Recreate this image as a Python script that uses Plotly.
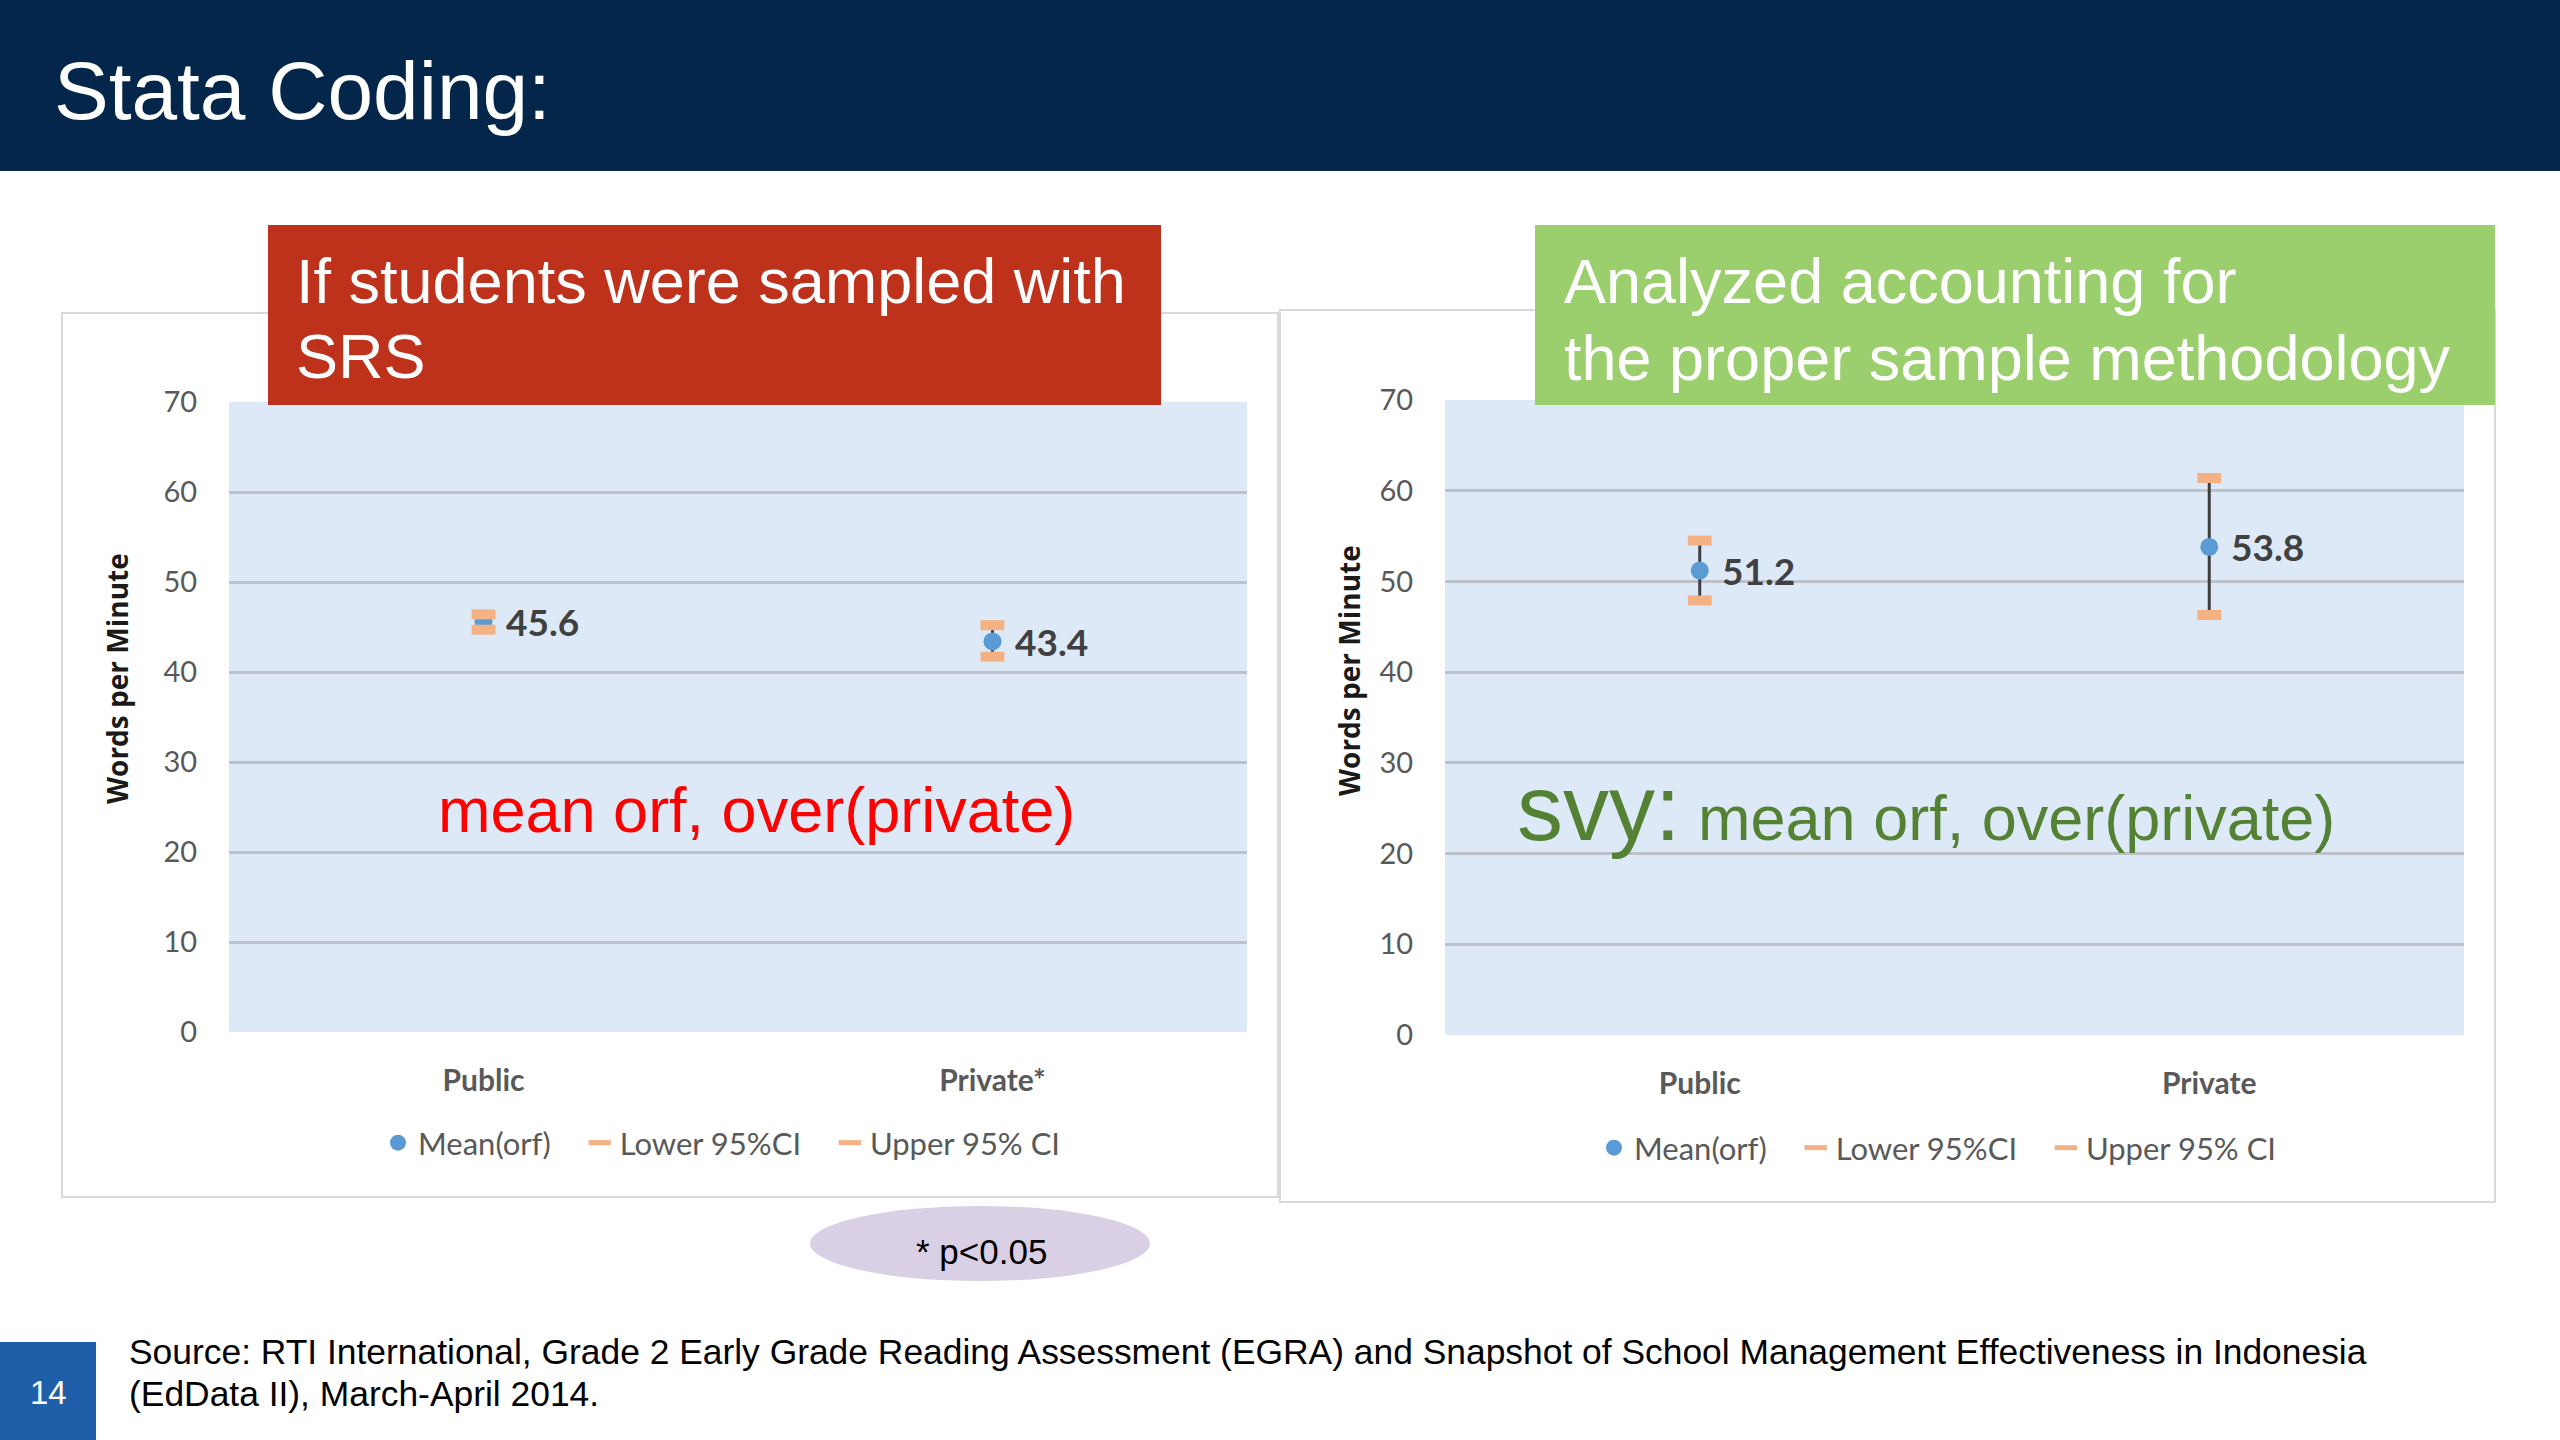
import plotly.graph_objects as go

# ---------------- data ----------------
cats_left = ["Public", "Private*"]
mean_left = [45.6, 43.4]
lower_left = [44.7, 41.7]
upper_left = [46.4, 45.2]

cats_right = ["Public", "Private"]
mean_right = [51.2, 53.8]
lower_right = [47.9, 46.3]
upper_right = [54.5, 61.4]

y_ticks = [0, 10, 20, 30, 40, 50, 60, 70]
series_names = ["Mean(orf)", "Lower 95%CI", "Upper 95% CI"]

title_text = "Stata Coding:"
left_box_lines = ["If students were sampled with", "SRS"]
right_box_lines = ["Analyzed accounting for", "the proper sample methodology"]
left_cmd = "mean orf, over(private)"
right_cmd_prefix = "svy:"
right_cmd = "mean orf, over(private)"
y_title = "Words per Minute"
note_text = "* p<0.05"
page_no = "14"
source_lines = [
    "Source: RTI International, Grade 2 Early Grade Reading Assessment (EGRA) and Snapshot of School Management Effectiveness in Indonesia",
    "(EdData II), March-April 2014.",
]

# ---------------- helpers ----------------
W, H = 2560, 1440


def px(x):
    return x / W


def py(y):
    return 1 - y / H


BLUE = "#5B9BD5"
ORANGE = "#F4B183"
GRAY_TXT = "#595959"
LABEL_TXT = "#404040"
ARIAL = "Liberation Sans, Arial, sans-serif"
NARROW = "Liberation Sans Narrow, Arial Narrow, Liberation Sans, Arial, sans-serif"
CAL = "Lato, Carlito, Calibri, sans-serif"
LEGEND_PAD = "\u00a0" * 3

fig = go.Figure()


def add_chart(cats, means, lows, ups, xa, ya, legend):
    err_plus = [u - m for u, m in zip(ups, means)]
    err_minus = [m - l for m, l in zip(means, lows)]
    fig.add_trace(go.Scatter(
        x=cats, y=means, mode="markers", name=series_names[0] + LEGEND_PAD,
        xaxis=xa, yaxis=ya, legend=legend,
        marker=dict(symbol="circle", size=18, color=BLUE),
        error_y=dict(type="data", symmetric=False, array=err_plus,
                     arrayminus=err_minus, width=0, thickness=3,
                     color="#3F3F3F"),
    ))
    for name, vals in ((series_names[1] + LEGEND_PAD, lows),
                       (series_names[2], ups)):
        fig.add_trace(go.Scatter(
            x=cats, y=vals, mode="markers", name=name,
            xaxis=xa, yaxis=ya, legend=legend,
            marker=dict(symbol="line-ew", size=17, color=ORANGE,
                        line=dict(width=10, color=ORANGE)),
        ))
    axref = "x" if xa == "x" else xa
    ayref = "y" if ya == "y" else ya
    for c, m in zip(cats, means):
        fig.add_annotation(
            x=c, y=m, xref=axref, yref=ayref, text=f"{m:.1f}",
            showarrow=False, xanchor="left", yanchor="middle", xshift=20,
            font=dict(family=CAL, size=37, color=LABEL_TXT, weight="bold"),
        )


add_chart(cats_left, mean_left, lower_left, upper_left, "x", "y", "legend")
add_chart(cats_right, mean_right, lower_right, upper_right, "x2", "y2", "legend2")

axis_y = dict(
    range=[0, 70], tickvals=y_ticks, showgrid=True, gridcolor="#BDC1C9",
    gridwidth=3, zeroline=False, showline=False, ticks="outside",
    ticklen=25, tickcolor="rgba(0,0,0,0)", automargin=False,
    tickfont=dict(family=CAL, size=29, color=GRAY_TXT), fixedrange=True,
)
axis_x = dict(
    type="category", range=[-0.5, 1.5], showgrid=False, zeroline=False,
    showline=False, ticks="outside", ticklen=22, tickcolor="rgba(0,0,0,0)",
    tickfont=dict(family=CAL, size=30, color=GRAY_TXT, weight="bold"),
    fixedrange=True, automargin=False,
)

legend_common = dict(
    orientation="h", xanchor="center", yanchor="middle",
    font=dict(family=CAL, size=31, color=GRAY_TXT),
    bgcolor="rgba(0,0,0,0)", itemsizing="trace", tracegroupgap=0,
)

fig.update_layout(
    width=W, height=H,
    margin=dict(l=0, r=0, t=0, b=0, pad=0, autoexpand=False),
    paper_bgcolor="white", plot_bgcolor="rgba(0,0,0,0)",
    xaxis=dict(domain=[px(229), px(1247)], anchor="y", **axis_x),
    yaxis=dict(domain=[py(1032), py(402)], anchor="x", **axis_y),
    xaxis2=dict(domain=[px(1445), px(2464)], anchor="y2", **axis_x),
    yaxis2=dict(domain=[py(1035), py(400)], anchor="x2", **axis_y),
    legend=dict(x=px(722), y=py(1143), **legend_common),
    legend2=dict(x=px(1938), y=py(1148), **legend_common),
    showlegend=True,
)

shapes = []
# title band
shapes.append(dict(type="rect", xref="paper", yref="paper", x0=0, x1=1,
                   y0=py(171), y1=1, fillcolor="#03264A", line_width=0,
                   layer="below"))
# chart panels
for x0, x1, y0, y1 in ((62, 1278, 313, 1197), (1280, 2495, 310, 1202)):
    shapes.append(dict(type="rect", xref="paper", yref="paper",
                       x0=px(x0), x1=px(x1), y0=py(y1), y1=py(y0),
                       fillcolor="white", line=dict(color="#D9D9D9", width=2),
                       layer="below"))
# plot-area backgrounds
for xr, yr in (("x domain", "y domain"), ("x2 domain", "y2 domain")):
    shapes.append(dict(type="rect", xref=xr, yref=yr, x0=0, x1=1, y0=0, y1=1,
                       fillcolor="#DDE9F6", line_width=0, layer="below"))
# header boxes
shapes.append(dict(type="rect", xref="paper", yref="paper",
                   x0=px(268), x1=px(1161), y0=py(405), y1=py(225),
                   fillcolor="#BE311B", line_width=0, layer="above"))
shapes.append(dict(type="rect", xref="paper", yref="paper",
                   x0=px(1535), x1=px(2495), y0=py(405), y1=py(225),
                   fillcolor="#9BCF6D", line_width=0, layer="above"))
# p-value ellipse
shapes.append(dict(type="circle", xref="paper", yref="paper",
                   x0=px(810), x1=px(1150), y0=py(1281), y1=py(1206),
                   fillcolor="#D9D0E6", line_width=0, layer="above"))
# page number box
shapes.append(dict(type="rect", xref="paper", yref="paper",
                   x0=0, x1=px(96), y0=0, y1=py(1342),
                   fillcolor="#1F5EA8", line_width=0, layer="above"))
fig.update_layout(shapes=shapes)


def note(x, y, text, size, color, family=ARIAL, xanchor="left", angle=0,
         weight="normal"):
    fig.add_annotation(x=px(x), y=py(y), xref="paper", yref="paper",
                       text=text, showarrow=False, xanchor=xanchor,
                       yanchor="middle", textangle=angle,
                       font=dict(family=family, size=size, color=color,
                                 weight=weight))


note(52, 90, title_text, 82, "white", family=NARROW)
note(294, 281, left_box_lines[0], 63, "white")
note(294, 356, left_box_lines[1], 63, "white")
note(1562, 281, right_box_lines[0], 63, "white")
note(1562, 358, right_box_lines[1], 63, "white")
note(756, 810, left_cmd, 63, "#FF0000", xanchor="center")
note(1515, 808,
     f"<span style='font-size:92px'>{right_cmd_prefix}</span> {right_cmd}",
     63, "#548235")
note(117, 679, y_title, 28, "#1A1A1A", family="Open Sans, sans-serif",
     xanchor="center", angle=-90, weight="bold")
note(1349, 671, y_title, 28, "#1A1A1A", family="Open Sans, sans-serif",
     xanchor="center", angle=-90, weight="bold")
note(981, 1251, note_text, 35, "black", xanchor="center")
note(48, 1392, page_no, 33, "white", xanchor="center")
note(127, 1352, source_lines[0], 35.4, "black")
note(127, 1394, source_lines[1], 35.4, "black")

post = ("document.documentElement.style.overflow='hidden';"
        "document.body.style.margin='0';"
        "document.body.style.overflow='hidden';"
        "var gd=document.getElementById('{plot_id}');"
        "gd.style.position='absolute';gd.style.left='0px';gd.style.top='0px';")

fig.write_html("out.html", post_script=post,
               config={"displayModeBar": False})
